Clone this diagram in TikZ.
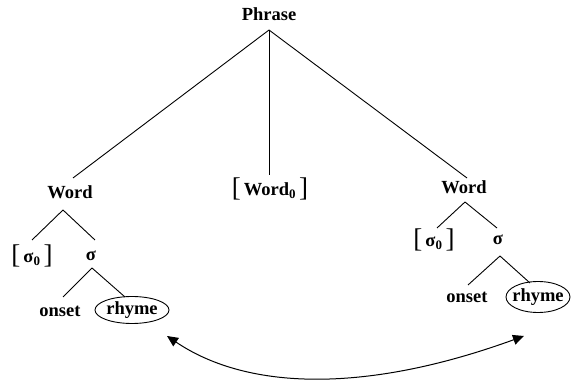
\documentclass[tikz,border=0pt]{standalone}
\usepackage{fontspec}
\setmainfont{Liberation Serif}
\usetikzlibrary{arrows.meta}
\newcommand{\brk}[1]{{\fontsize{27}{27}\selectfont\mdseries\raisebox{-1pt}{[}}\,#1\,{\fontsize{27}{27}\selectfont\mdseries\raisebox{-1pt}{]}}}
\begin{document}
\begin{tikzpicture}[x=1pt,y=-1pt,
  lbl/.style={font=\bfseries\fontsize{18.5}{18.5}\selectfont, inner sep=0pt},
  br/.style={line width=0.9pt}]
\useasboundingbox (0,0) rectangle (571,382);
% texts
\node[lbl] (phrase) at (269,14) {Phrase};
\node[lbl] (wordL) at (70,192) {Word};
\node[lbl] (word0) at (270,189) {\brk{Word\textsubscript{0}}};
\node[lbl] (wordR) at (464,187) {Word};
\node[lbl] (s0L) at (32,256) {\brk{σ\textsubscript{0}}};
\node[lbl] (sL) at (91,256) {σ};
\node[lbl] (s0R) at (434,240) {\brk{σ\textsubscript{0}}};
\node[lbl] (sR) at (498,240) {σ};
\node[lbl] (onL) at (60,311) {onset};
\node[lbl] (rhL) at (132,310) {rhyme};
\node[lbl] (onR) at (467,297) {onset};
\node[lbl] (rhR) at (538,297) {rhyme};
\draw[line width=0.9pt] (rhL) ellipse (37 and 13.5);
\draw[line width=0.9pt] (rhR) ellipse (32 and 15.5);
% branch points
\coordinate (pA) at (269,30);
\coordinate (wLt) at (73,178);
\coordinate (w0t) at (269,175);
\coordinate (wRt) at (467,178);
\coordinate (wLA) at (63,210);
\coordinate (s0Lt) at (32,240);
\coordinate (sLt) at (95,240);
\coordinate (sLA) at (92,268);
\coordinate (onLt) at (63,297);
\coordinate (rhLt) at (125,297);
\coordinate (wRA) at (465,202);
\coordinate (s0Rt) at (437,228);
\coordinate (sRt) at (497,228);
\coordinate (sRA) at (500,256);
\coordinate (onRt) at (468,285);
\coordinate (rhRt) at (530,283);
\draw[br] (pA) -- (wLt);
\draw[br] (pA) -- (w0t);
\draw[br] (pA) -- (wRt);
\draw[br] (wLA) -- (s0Lt);
\draw[br] (wLA) -- (sLt);
\draw[br] (sLA) -- (onLt);
\draw[br] (sLA) -- (rhLt);
\draw[br] (wRA) -- (s0Rt);
\draw[br] (wRA) -- (sRt);
\draw[br] (sRA) -- (onRt);
\draw[br] (sRA) -- (rhRt);
% arrow
\coordinate (aL) at (167,336);
\coordinate (aR) at (524,336);
\draw[line width=1pt, {Triangle[length=11pt,width=10pt]}-{Triangle[length=11pt,width=10pt]}]
  (aL) .. controls (250,392) and (370,392) .. (aR);
\end{tikzpicture}
\end{document}
